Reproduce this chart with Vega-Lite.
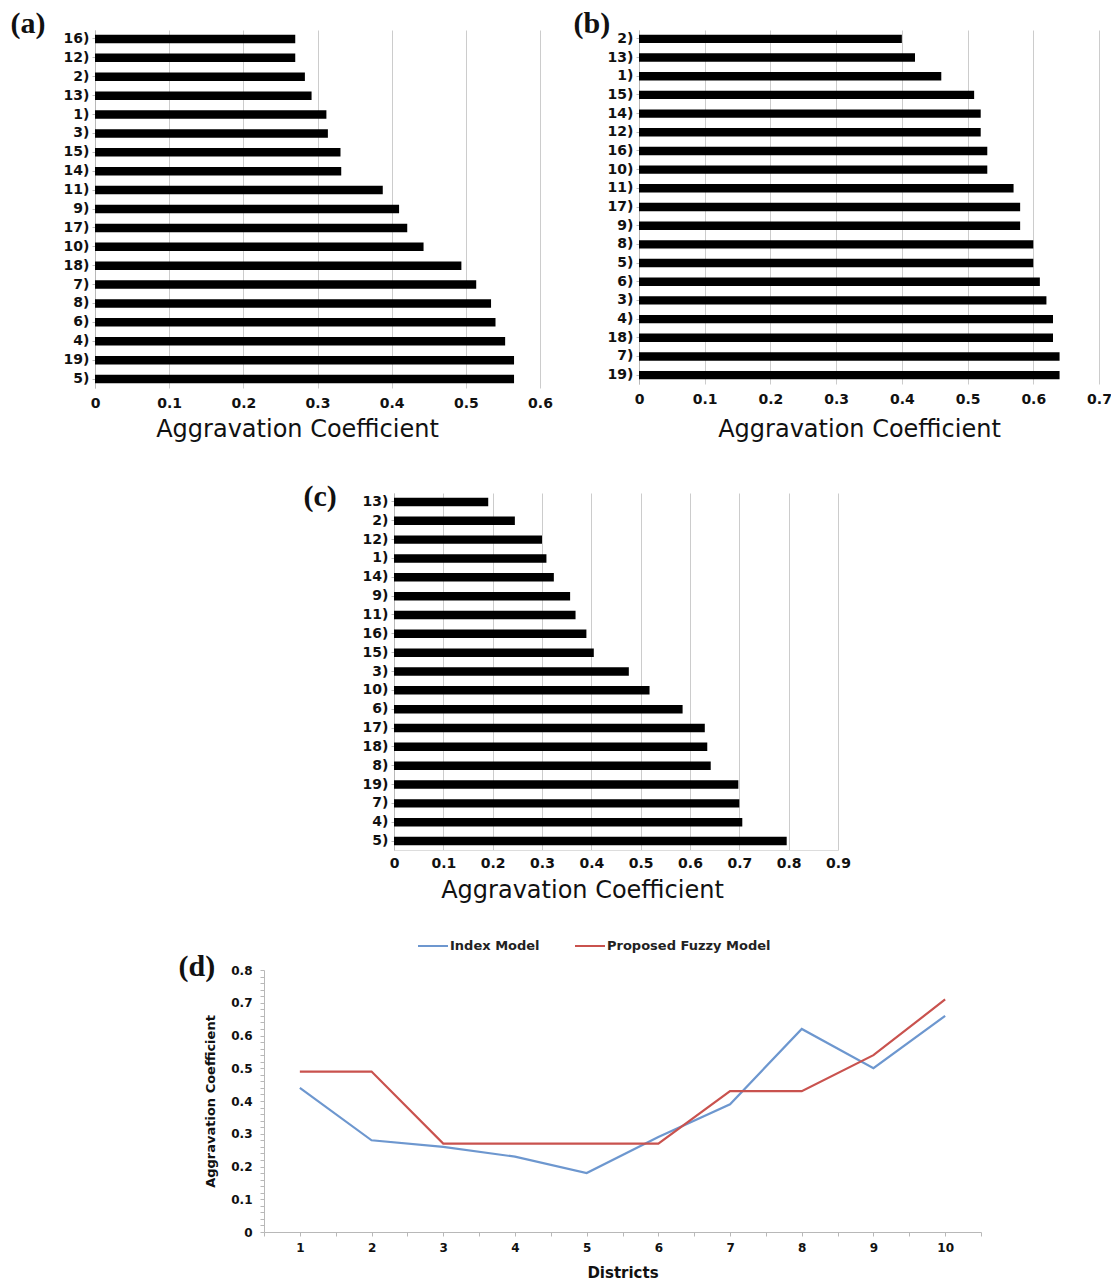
{
  "$schema": "https://vega.github.io/schema/vega-lite/v6.json",
  "background": "white",
  "padding": {"left": 10, "top": 8, "right": 2, "bottom": 2},
  "config": {
    "view": {"stroke": null},
    "axis": {
      "labelColor": "#111111",
      "titleColor": "#111111",
      "domainColor": "#b8b8b8",
      "tickColor": "#b8b8b8",
      "gridColor": "#cccccc",
      "labelFont": "DejaVu Sans",
      "labelFontWeight": "bold",
      "titleFont": "DejaVu Sans",
      "labelFlush": false,
      "labelOverlap": false
    }
  },
  "resolve": {"legend": {"color": "independent"}},
  "spacing": 40,
  "vconcat": [
    {
      "spacing": 20,
      "hconcat": [
        {
          "width": 445,
          "height": 358,
          "data": {"values": [
            {"district": "16", "coefficient": 0.270},
            {"district": "12", "coefficient": 0.270},
            {"district": "2", "coefficient": 0.283},
            {"district": "13", "coefficient": 0.292},
            {"district": "1", "coefficient": 0.312},
            {"district": "3", "coefficient": 0.314},
            {"district": "15", "coefficient": 0.331},
            {"district": "14", "coefficient": 0.332},
            {"district": "11", "coefficient": 0.388},
            {"district": "9", "coefficient": 0.410},
            {"district": "17", "coefficient": 0.421},
            {"district": "10", "coefficient": 0.443},
            {"district": "18", "coefficient": 0.494},
            {"district": "7", "coefficient": 0.514},
            {"district": "8", "coefficient": 0.534},
            {"district": "6", "coefficient": 0.540},
            {"district": "4", "coefficient": 0.553},
            {"district": "19", "coefficient": 0.565},
            {"district": "5", "coefficient": 0.565}
          ]},
          "mark": {"type": "bar", "color": "#000000"},
          "encoding": {
            "y": {
              "field": "district", "type": "nominal", "sort": null,
              "scale": {"paddingInner": 0.55, "paddingOuter": 0.25},
              "axis": {
                "title": "(a)", "titleAngle": 0, "titleAlign": "left", "titleBaseline": "alphabetic",
                "titleX": -85, "titleY": 2,
                "titleFont": "Liberation Serif", "titleFontSize": 30, "titleFontWeight": "bold",
                "labelExpr": "datum.label + ')'", "labelFontSize": 14, "labelPadding": 3,
                "tickSize": 3, "grid": false
              }
            },
            "x": {
              "field": "coefficient", "type": "quantitative",
              "scale": {"domain": [0, 0.6], "nice": false},
              "axis": {
                "title": "Aggravation Coefficient", "values": [0, 0.1, 0.2, 0.3, 0.4, 0.5, 0.6], "format": "~g",
                "grid": true, "ticks": false, "domain": false,
                "labelFontSize": 14, "labelPadding": 8,
                "titleFontSize": 24, "titleFontWeight": "normal", "titleBaseline": "alphabetic",
                "titleX": 202, "titleY": 48
              }
            }
          }
        },
        {
          "width": 460,
          "height": 354,
          "data": {"values": [
            {"district": "2", "coefficient": 0.40},
            {"district": "13", "coefficient": 0.42},
            {"district": "1", "coefficient": 0.46},
            {"district": "15", "coefficient": 0.51},
            {"district": "14", "coefficient": 0.52},
            {"district": "12", "coefficient": 0.52},
            {"district": "16", "coefficient": 0.53},
            {"district": "10", "coefficient": 0.53},
            {"district": "11", "coefficient": 0.57},
            {"district": "17", "coefficient": 0.58},
            {"district": "9", "coefficient": 0.58},
            {"district": "8", "coefficient": 0.60},
            {"district": "5", "coefficient": 0.60},
            {"district": "6", "coefficient": 0.61},
            {"district": "3", "coefficient": 0.62},
            {"district": "4", "coefficient": 0.63},
            {"district": "18", "coefficient": 0.63},
            {"district": "7", "coefficient": 0.64},
            {"district": "19", "coefficient": 0.64}
          ]},
          "mark": {"type": "bar", "color": "#000000"},
          "encoding": {
            "y": {
              "field": "district", "type": "nominal", "sort": null,
              "scale": {"paddingInner": 0.55, "paddingOuter": 0.25},
              "axis": {
                "title": "(b)", "titleAngle": 0, "titleAlign": "left", "titleBaseline": "alphabetic",
                "titleX": -66, "titleY": 2,
                "titleFont": "Liberation Serif", "titleFontSize": 30, "titleFontWeight": "bold",
                "labelExpr": "datum.label + ')'", "labelFontSize": 14, "labelPadding": 3,
                "tickSize": 3, "grid": false
              }
            },
            "x": {
              "field": "coefficient", "type": "quantitative",
              "scale": {"domain": [0, 0.7], "nice": false},
              "axis": {
                "title": "Aggravation Coefficient", "values": [0, 0.1, 0.2, 0.3, 0.4, 0.5, 0.6, 0.7], "format": "~g",
                "grid": true, "ticks": false, "domain": false,
                "labelFontSize": 14, "labelPadding": 8,
                "titleFontSize": 24, "titleFontWeight": "normal", "titleBaseline": "alphabetic",
                "titleX": 220, "titleY": 52
              }
            }
          }
        }
      ]
    },
    {
      "spacing": 28,
      "resolve": {"legend": {"color": "independent"}},
      "vconcat": [
        {
          "spacing": 0,
          "hconcat": [
            {"width": 208, "height": 1, "data": {"values": []}, "mark": "point"},
            {
              "width": 444,
              "height": 357,
              "data": {"values": [
                {"district": "13", "coefficient": 0.191},
                {"district": "2", "coefficient": 0.245},
                {"district": "12", "coefficient": 0.300},
                {"district": "1", "coefficient": 0.309},
                {"district": "14", "coefficient": 0.324},
                {"district": "9", "coefficient": 0.357},
                {"district": "11", "coefficient": 0.368},
                {"district": "16", "coefficient": 0.390},
                {"district": "15", "coefficient": 0.405},
                {"district": "3", "coefficient": 0.476},
                {"district": "10", "coefficient": 0.518},
                {"district": "6", "coefficient": 0.585},
                {"district": "17", "coefficient": 0.630},
                {"district": "18", "coefficient": 0.635},
                {"district": "8", "coefficient": 0.642},
                {"district": "19", "coefficient": 0.698},
                {"district": "7", "coefficient": 0.700},
                {"district": "4", "coefficient": 0.706},
                {"district": "5", "coefficient": 0.796}
              ]},
              "mark": {"type": "bar", "color": "#000000"},
              "encoding": {
                "y": {
                  "field": "district", "type": "nominal", "sort": null,
                  "scale": {"paddingInner": 0.55, "paddingOuter": 0.25},
                  "axis": {
                    "title": "(c)", "titleAngle": 0, "titleAlign": "left", "titleBaseline": "alphabetic",
                    "titleX": -91, "titleY": 12,
                    "titleFont": "Liberation Serif", "titleFontSize": 30, "titleFontWeight": "bold",
                    "labelExpr": "datum.label + ')'", "labelFontSize": 14, "labelPadding": 3,
                    "tickSize": 3, "grid": false
                  }
                },
                "x": {
                  "field": "coefficient", "type": "quantitative",
                  "scale": {"domain": [0, 0.9], "nice": false},
                  "axis": {
                    "title": "Aggravation Coefficient", "values": [0, 0.1, 0.2, 0.3, 0.4, 0.5, 0.6, 0.7, 0.8, 0.9], "format": "~g",
                    "grid": true, "ticks": false, "domain": true, "domainColor": "#dddddd",
                    "labelFontSize": 14, "labelPadding": 6,
                    "titleFontSize": 24, "titleFontWeight": "normal", "titleBaseline": "alphabetic",
                    "titleX": 188, "titleY": 47
                  }
                }
              }
            }
          ]
        },
        {
          "spacing": 0,
          "resolve": {"legend": {"color": "independent"}},
          "hconcat": [
            {"width": 83, "height": 1, "data": {"values": []}, "mark": "point"},
            {
              "width": 717,
              "height": 262,
              "data": {"values": [
                {"district": 1, "model": "Index Model", "coefficient": 0.44},
                {"district": 2, "model": "Index Model", "coefficient": 0.28},
                {"district": 3, "model": "Index Model", "coefficient": 0.26},
                {"district": 4, "model": "Index Model", "coefficient": 0.23},
                {"district": 5, "model": "Index Model", "coefficient": 0.18},
                {"district": 6, "model": "Index Model", "coefficient": 0.29},
                {"district": 7, "model": "Index Model", "coefficient": 0.39},
                {"district": 8, "model": "Index Model", "coefficient": 0.62},
                {"district": 9, "model": "Index Model", "coefficient": 0.50},
                {"district": 10, "model": "Index Model", "coefficient": 0.66},
                {"district": 1, "model": "Proposed Fuzzy Model", "coefficient": 0.49},
                {"district": 2, "model": "Proposed Fuzzy Model", "coefficient": 0.49},
                {"district": 3, "model": "Proposed Fuzzy Model", "coefficient": 0.27},
                {"district": 4, "model": "Proposed Fuzzy Model", "coefficient": 0.27},
                {"district": 5, "model": "Proposed Fuzzy Model", "coefficient": 0.27},
                {"district": 6, "model": "Proposed Fuzzy Model", "coefficient": 0.27},
                {"district": 7, "model": "Proposed Fuzzy Model", "coefficient": 0.43},
                {"district": 8, "model": "Proposed Fuzzy Model", "coefficient": 0.43},
                {"district": 9, "model": "Proposed Fuzzy Model", "coefficient": 0.54},
                {"district": 10, "model": "Proposed Fuzzy Model", "coefficient": 0.71}
              ]},
              "resolve": {"axis": {"x": "independent", "y": "independent"}},
              "layer": [
                {
                  "mark": {"type": "line", "strokeWidth": 2.2},
                  "encoding": {
                    "x": {
                      "field": "district", "type": "quantitative",
                      "scale": {"domain": [0.5, 10.5], "nice": false, "zero": false},
                      "axis": {
                        "title": "Districts",
                        "values": [0.5, 1, 1.5, 2, 2.5, 3, 3.5, 4, 4.5, 5, 5.5, 6, 6.5, 7, 7.5, 8, 8.5, 9, 9.5, 10, 10.5],
                        "labelExpr": "datum.value % 1 == 0 ? format(datum.value, 'd') : ''",
                        "grid": false, "tickSize": 4, "labelFontSize": 12, "labelPadding": 6,
                        "titleFontSize": 15, "titleFontWeight": "bold", "titlePadding": 12
                      }
                    },
                    "y": {
                      "field": "coefficient", "type": "quantitative",
                      "scale": {"domain": [0, 0.8], "nice": false},
                      "axis": {
                        "title": "Aggravation Coefficient",
                        "values": [0, 0.02, 0.04, 0.06, 0.08, 0.1, 0.12, 0.14, 0.16, 0.18, 0.2, 0.22, 0.24, 0.26, 0.28, 0.3, 0.32, 0.34, 0.36, 0.38, 0.4, 0.42, 0.44, 0.46, 0.48, 0.5, 0.52, 0.54, 0.56, 0.58, 0.6, 0.62, 0.64, 0.66, 0.68, 0.7, 0.72, 0.74, 0.76, 0.78, 0.8],
                        "labelExpr": "abs(datum.value * 10 - round(datum.value * 10)) < 0.001 ? format(datum.value, '~g') : ''",
                        "grid": false, "tickSize": 4, "labelFontSize": 12, "labelPadding": 8,
                        "titleFontSize": 13, "titleFontWeight": "bold", "titlePadding": 13
                      }
                    },
                    "color": {
                      "field": "model", "type": "nominal",
                      "scale": {"domain": ["Index Model", "Proposed Fuzzy Model"], "range": ["#6d97cf", "#c9524e"]},
                      "legend": {
                        "title": null, "orient": "none", "direction": "horizontal",
                        "legendX": 153, "legendY": -40,
                        "symbolType": "stroke", "symbolSize": 900, "symbolStrokeWidth": 2,
                        "labelFont": "DejaVu Sans", "labelFontWeight": "bold", "labelFontSize": 13,
                        "labelColor": "#222222", "labelOffset": 1, "labelLimit": 400, "columnPadding": 31
                      }
                    }
                  }
                },
                {
                  "mark": {"type": "point", "opacity": 0},
                  "encoding": {
                    "x": {
                      "field": "district", "type": "quantitative",
                      "axis": {
                        "orient": "top", "title": "(d)",
                        "domain": false, "ticks": false, "labels": false, "grid": false,
                        "titleAngle": 0, "titleAlign": "left", "titleBaseline": "alphabetic",
                        "titleX": -86, "titleY": 5,
                        "titleFont": "Liberation Serif", "titleFontSize": 30, "titleFontWeight": "bold"
                      }
                    },
                    "y": {"field": "coefficient", "type": "quantitative", "axis": null}
                  }
                }
              ]
            }
          ]
        }
      ]
    }
  ]
}
